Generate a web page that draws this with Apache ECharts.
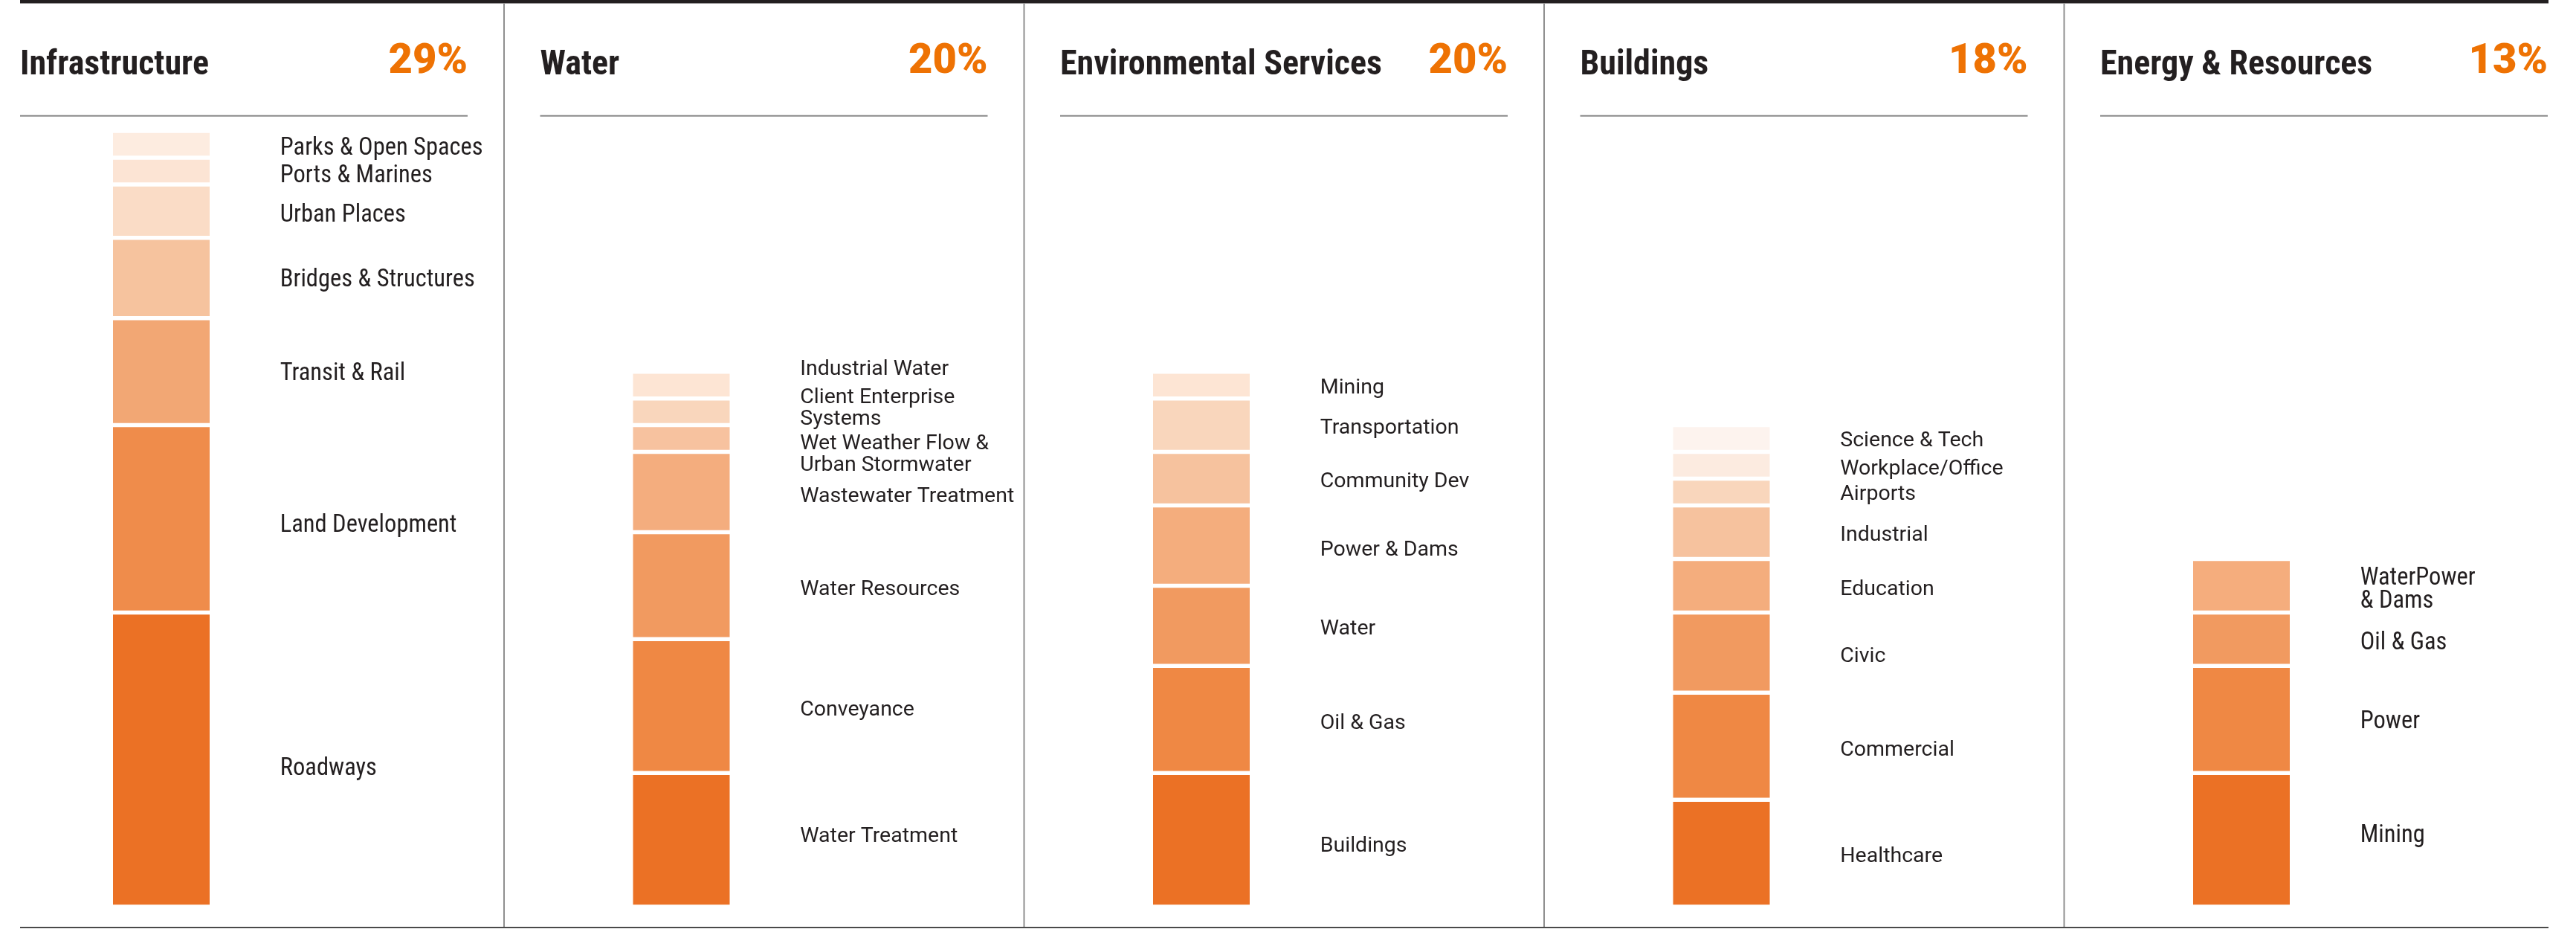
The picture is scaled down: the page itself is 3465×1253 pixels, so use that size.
<!DOCTYPE html>
<html>
<head>
<meta charset="utf-8">
<script src="https://cdn.jsdelivr.net/npm/echarts@6/dist/echarts.min.js"></script>
<style>
  html, body { margin: 0; padding: 0; background: #fff; }
  #chart { width: 3465px; height: 1253px; }
</style>
</head>
<body>
<div id="chart"></div>
<script>
// panel headers
const panelTitles = ['Infrastructure', 'Water', 'Environmental Services', 'Buildings', 'Energy & Resources'];
const panelShares = ['29%', '20%', '20%', '18%', '13%'];

// segments, bottom to top, in % of total
const infraNames = ['Roadways', 'Land Development', 'Transit & Rail', 'Bridges & Structures', 'Urban Places', 'Ports & Marines', 'Parks & Open Spaces'];
const infraValues = [11, 7, 4, 3, 2, 1, 1];

const waterNames = ['Water Treatment', 'Conveyance', 'Water Resources', 'Wastewater Treatment', 'Wet Weather Flow &\nUrban Stormwater', 'Client Enterprise\nSystems', 'Industrial Water'];
const waterValues = [5, 5, 4, 3, 1, 1, 1];

const envNames = ['Buildings', 'Oil & Gas', 'Water', 'Power & Dams', 'Community Dev', 'Transportation', 'Mining'];
const envValues = [5, 4, 3, 3, 2, 2, 1];

const buildNames = ['Healthcare', 'Commercial', 'Civic', 'Education', 'Industrial', 'Airports', 'Workplace/Office', 'Science & Tech'];
const buildValues = [4, 4, 3, 2, 2, 1, 1, 1];

const energyNames = ['Mining', 'Power', 'Oil & Gas', 'WaterPower\n& Dams'];
const energyValues = [5, 4, 2, 2];

// styling (bottom to top)
const panelColors = [
  ['#EB7125', '#EF8C4B', '#F2A774', '#F6C39E', '#FADCC6', '#FCE4D4', '#FDECE0'],
  ['#EB7125', '#EF8844', '#F19A60', '#F4AD7E', '#F7C29F', '#F9D6BC', '#FDE5D4'],
  ['#EB7125', '#EF8844', '#F19A60', '#F4AD7D', '#F6C29E', '#F9D6BC', '#FDE5D4'],
  ['#EB7125', '#EF8844', '#F19A60', '#F4AD7D', '#F6C29E', '#F9D6BC', '#FCEBE0', '#FDF3EE'],
  ['#EB7125', '#EF8844', '#F19A60', '#F5AD7D']
];
// small vertical nudges of the labels so they don't collide
const labelNudge = [
  [13, 9, 3, 3, 6, 7, 6],
  [-4, 6, 5, 6, 22, -4, -21],
  [9, 6, 5, 6, 4, 4, 4],
  [5, 6, 6, 5, 4, 3, 5, 3],
  [-5, 4, 6, 6]
];

const panels = [
  { names: infraNames, values: infraValues },
  { names: waterNames, values: waterValues },
  { names: envNames, values: envValues },
  { names: buildNames, values: buildValues },
  { names: energyNames, values: energyValues }
];

const condensed = '"Roboto Condensed", "Liberation Sans Narrow", "DejaVu Sans Condensed", sans-serif';
const regular = 'Roboto, "Noto Sans", sans-serif';
const ink = '#231F20';
const orange = '#EE7203';

const innerStart = p => 27 + 699.5 * p;
const barLeft = p => innerStart(p) + 125;
const gap = 5.5; // white gap between segments

var dom = document.getElementById('chart');
var myChart = echarts.init(dom, null, { renderer: 'canvas' });

const grid = [], xAxis = [], yAxis = [], series = [];
panels.forEach((pan, p) => {
  grid.push({ left: barLeft(p) - gap / 2, width: 130 + gap, top: 176, bottom: 34 });
  xAxis.push({ type: 'category', gridIndex: p, data: [panelTitles[p]], show: false });
  yAxis.push({ type: 'value', gridIndex: p, min: 0, max: 29, show: false });
  const cond = (p === 0 || p === 4);
  pan.names.forEach((name, i) => {
    series.push({
      type: 'bar',
      name: name,
      xAxisIndex: p,
      yAxisIndex: p,
      stack: 'panel' + p,
      barWidth: 130 + gap,
      silent: true,
      data: [pan.values[i]],
      // echarts draws the border inside the bar, so half the gap on each side
      itemStyle: { color: panelColors[p][i], borderColor: '#fff', borderWidth: gap / 2 },
      label: {
        show: true,
        position: 'right',
        distance: 92,
        formatter: '{a}',
        color: ink,
        fontFamily: cond ? condensed : regular,
        fontSize: cond ? 32.5 : 28.5,
        lineHeight: cond ? 31 : 29,
        offset: [0, labelNudge[p][i]]
      }
    });
  });
});

// frame, headers, rules
const graphics = [
  { type: 'rect', shape: { x: 27, y: 0, width: 3401, height: 4.5 }, style: { fill: ink } },
  { type: 'rect', shape: { x: 27, y: 1246, width: 3401, height: 1.8 }, style: { fill: '#333' } }
];
for (let p = 1; p < 5; p++) {
  const x = innerStart(p) - 48.5;
  graphics.push({ type: 'line', shape: { x1: x, y1: 4, x2: x, y2: 1246 }, style: { stroke: '#8f8f8f', lineWidth: 2 } });
}
panelTitles.forEach((t, p) => {
  const x0 = innerStart(p);
  graphics.push({ type: 'line', shape: { x1: x0, y1: 155.7, x2: x0 + 602, y2: 155.7 }, style: { stroke: '#8a8a8a', lineWidth: 2 } });
  graphics.push({
    type: 'text', x: x0, y: 88,
    style: { text: t, fill: ink, fontFamily: condensed, fontWeight: 'bold', fontSize: 46,
      align: 'left', verticalAlign: 'middle', textAlign: 'left', textVerticalAlign: 'middle' }
  });
  graphics.push({
    type: 'text', x: x0 + 602, y: 84,
    style: { text: panelShares[p], fill: orange, fontFamily: 'Roboto, Inter, sans-serif', fontWeight: 900, fontSize: 56,
      align: 'right', verticalAlign: 'middle', textAlign: 'right', textVerticalAlign: 'middle' }
  });
});

var option = {
  animation: false,
  backgroundColor: '#fff',
  grid: grid,
  xAxis: xAxis,
  yAxis: yAxis,
  series: series,
  graphic: { elements: graphics }
};

option && myChart.setOption(option);
</script>
</body>
</html>
